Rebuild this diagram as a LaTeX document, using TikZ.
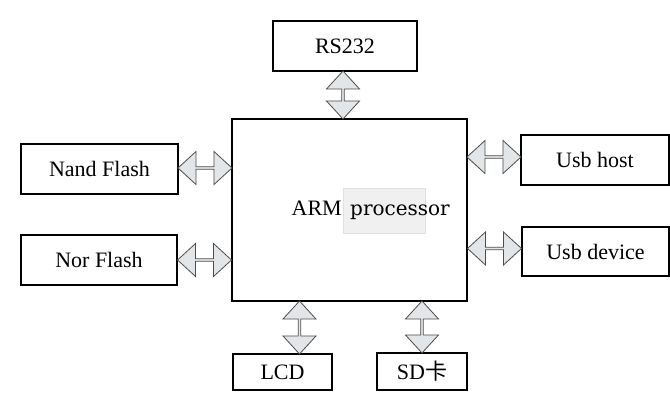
\documentclass[tikz,border=0pt]{standalone}
\usepackage{fontspec}
\setmainfont{Liberation Serif}
\newfontfamily\procfont{DejaVu Serif}
\newfontfamily\cjk{Noto Sans CJK SC}
\usetikzlibrary{arrows.meta,positioning,calc,shapes.arrows}
\definecolor{arrowfill}{RGB}{226,230,232}
\definecolor{patchcol}{RGB}{240,240,240}

\begin{document}
\begin{tikzpicture}[
    x=1pt, y=-1pt,
    blk/.style={draw, line width=1.2pt, inner sep=0pt, font=\fontsize{22}{26}\selectfont},
    dblarr/.style={double arrow, draw=black!70, fill=arrowfill, line width=0.8pt, inner sep=0pt,
        minimum width=33pt, double arrow head extend=5pt, double arrow tip angle=85},
]
\useasboundingbox (0,0) rectangle (670,401);

% processor and the parts round it
\node[blk, minimum width=235pt, minimum height=182pt] (arm) at (349.5,210) {};
\node[blk, minimum width=144pt, minimum height=50pt] (rs) at (345,46) {RS232};
\node[blk, minimum width=157pt, minimum height=50pt] (nand) at (99.5,169) {Nand Flash};
\node[blk, minimum width=156pt, minimum height=50pt] (nor) at (99,260) {Nor Flash};
\node[blk, minimum width=148pt, minimum height=50pt] (uhost) at (595,160) {Usb host};
\node[blk, minimum width=147pt, minimum height=49pt] (udev) at (595.5,251.5) {Usb device};
\node[blk, minimum width=99pt, minimum height=36pt] (lcd) at (282.5,372) {LCD};
\node[blk, minimum width=90pt, minimum height=37pt] (sd) at (422,371.5) {SD{\cjk 卡}};

% label inside the processor box
\node[fill=patchcol, draw=black!12, minimum width=82pt, minimum height=45pt, inner sep=0pt] (patch) at (384,210.5) {};
\node[anchor=base east, inner sep=0pt, font=\fontsize{22}{26}\selectfont] (armtxt) at (342,215) {ARM};
\node[anchor=base west, inner sep=0pt, font=\procfont\fontsize{20}{24}\selectfont] (proctxt) at (350,215) {processor};

% links
\node[dblarr, rotate=90, minimum height=48pt] (ars) at ($(rs.south)!0.5!(rs.south |- arm.north)+(-2,0)$) {};
\node[dblarr, minimum height=54pt] (anand) at ($(nand.east)!0.5!(arm.west |- nand.east)+(0,-1)$) {};
\node[dblarr, minimum height=54pt] (anor) at ($(nor.east)!0.5!(arm.west |- nor.east)$) {};
\node[dblarr, minimum height=54pt] (auhost) at ($(uhost.west)!0.5!(arm.east |- uhost.west)+(0,-3)$) {};
\node[dblarr, minimum height=54pt] (audev) at ($(udev.west)!0.5!(arm.east |- udev.west)+(0,-3)$) {};
\node[dblarr, rotate=90, minimum height=53pt] (alcd) at ($(lcd.north)!0.5!(lcd.north |- arm.south)+(17,0)$) {};
\node[dblarr, rotate=90, minimum height=52pt] (asd) at ($(sd.north)!0.5!(sd.north |- arm.south)$) {};
\end{tikzpicture}
\end{document}
